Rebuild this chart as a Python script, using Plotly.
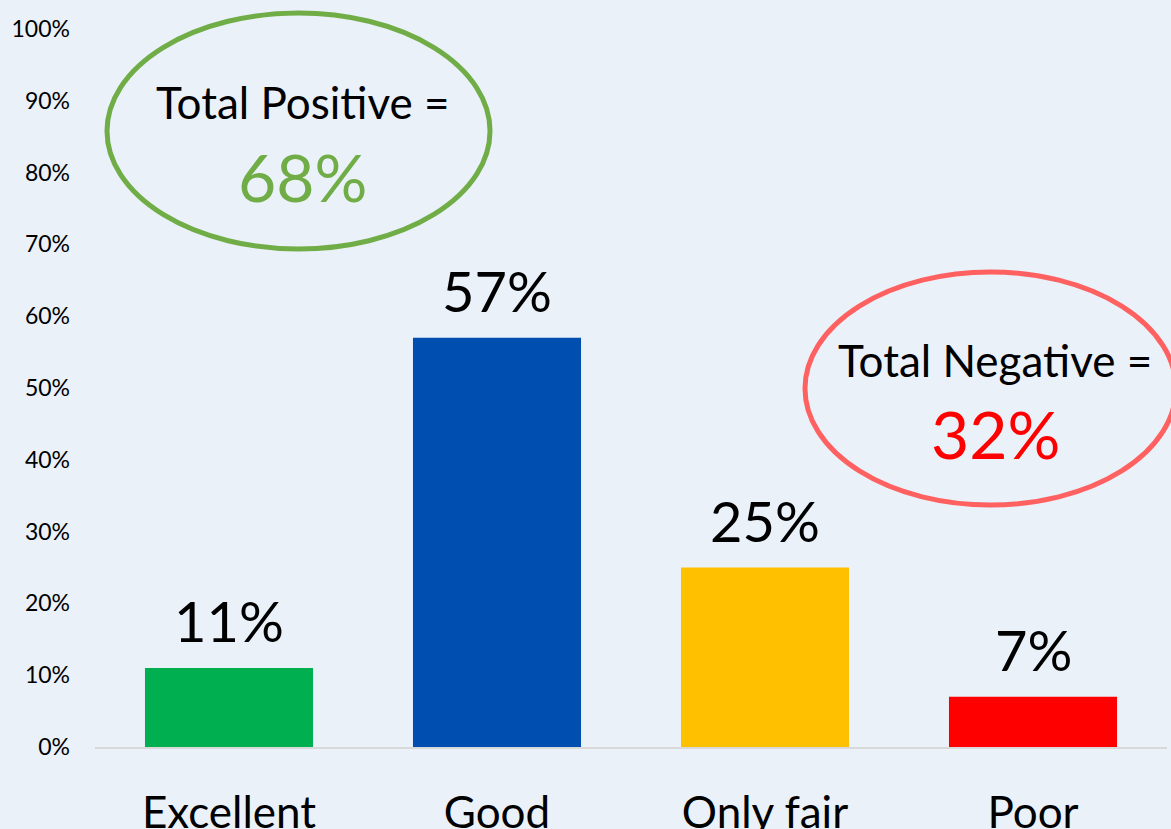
import plotly.graph_objects as go

categories = ["Excellent", "Good", "Only fair", "Poor"]
values = [0.11, 0.57, 0.25, 0.07]
bar_colors = ["#00B050", "#004EAF", "#FFC000", "#FF0000"]
y_ticks = [i / 10 for i in range(11)]

total_pos = values[0] + values[1]
total_neg = values[2] + values[3]

FONT = "Lato"
BG = "#EAF1F9"

fig = go.Figure()
fig.add_trace(go.Bar(
    x=categories, y=values, marker=dict(color=bar_colors, line=dict(width=0)),
    hoverinfo="skip", showlegend=False,
))

for c, v in zip(categories, values):
    fig.add_annotation(x=c, y=v, xref="x", yref="y", text=f"{round(v*100)}%",
                       showarrow=False, yanchor="bottom", xanchor="center", yshift=12,
                       font=dict(family=FONT, size=56, color="#000000"))

# ellipses
fig.add_shape(type="circle", xref="paper", yref="paper",
              x0=0.0112, x1=0.3685, y0=0.6936, y1=1.0223,
              line=dict(color="#70AD47", width=5), fillcolor="rgba(0,0,0,0)")
fig.add_shape(type="circle", xref="paper", yref="paper",
              x0=0.6623, x1=1.0084, y0=0.337, y1=0.6616,
              line=dict(color="#FF6161", width=5), fillcolor="rgba(0,0,0,0)")

common = dict(showarrow=False, xref="paper", yref="paper", xanchor="center", yanchor="middle")
fig.add_annotation(x=0.194, y=0.898, text="Total Positive =",
                   font=dict(family=FONT, size=44, color="#000000"), **common)
fig.add_annotation(x=0.194, y=0.794, text=f"{round(total_pos*100)}%",
                   font=dict(family=FONT, size=66, color="#70AD47"), **common)
fig.add_annotation(x=0.8396, y=0.539, text="Total Negative =",
                   font=dict(family=FONT, size=44, color="#000000"), **common)
fig.add_annotation(x=0.8396, y=0.437, text=f"{round(total_neg*100)}%",
                   font=dict(family=FONT, size=66, color="#FF0000"), **common)

fig.update_layout(
    width=1171, height=829,
    margin=dict(l=95, r=4, t=29, b=82),
    paper_bgcolor=BG, plot_bgcolor=BG,
    bargap=0.373,
    font=dict(family=FONT, color="#000000"),
    xaxis=dict(showgrid=False, showline=True, linecolor="#D9D9D9", linewidth=2,
               ticks="", tickfont=dict(family=FONT, size=44, color="#000000"),
               ticklabelstandoff=26, zeroline=False, automargin=False),
    yaxis=dict(range=[0, 1], tickvals=y_ticks, tickformat=".0%", showgrid=False,
               zeroline=False, showline=False, ticks="",
               tickfont=dict(family=FONT, size=23, color="#000000"),
               ticklabelstandoff=24, automargin=False),
)

fig.write_html("out.html", config={"displayModeBar": False},
               post_script="document.body.style.margin='0';document.body.style.overflow='hidden';")
